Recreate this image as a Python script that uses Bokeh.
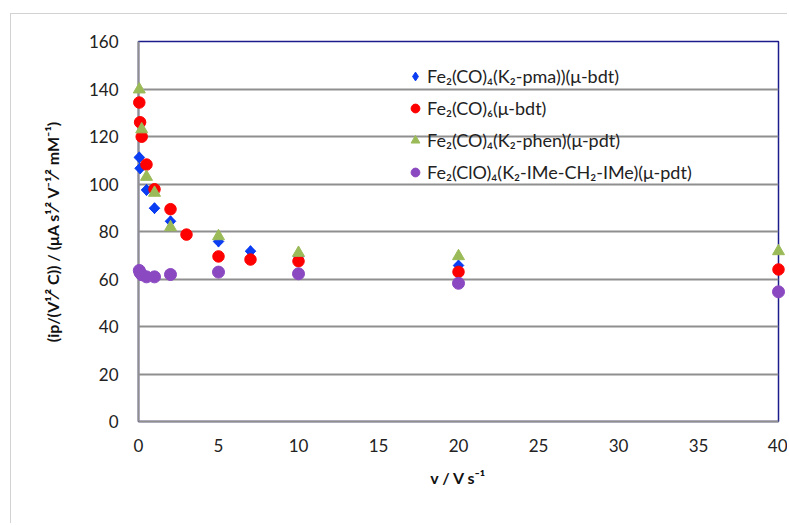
import math
from bokeh.plotting import figure
from bokeh.models import Range1d, FixedTicker, Legend, LegendItem
from bokeh.embed import file_html
from bokeh.resources import INLINE

# ---- data ----
blue_x = [0.05, 0.1, 0.5, 1, 2, 5, 7, 10, 20]
blue_y = [111.2, 106.6, 97.5, 89.8, 84.3, 75.8, 71.7, 69.5, 65.7]

red_x = [0.05, 0.1, 0.2, 0.5, 1, 2, 3, 5, 7, 10, 20, 40]
red_y = [134.3, 126.0, 119.9, 108.2, 97.8, 89.4, 78.7, 69.5, 68.2, 67.5, 63.0, 64.0]

green_x = [0.05, 0.2, 0.5, 1, 2, 5, 10, 20, 40]
green_y = [139.8, 123.0, 103.0, 96.3, 81.8, 78.0, 71.0, 69.6, 71.7]

purple_x = [0.05, 0.1, 0.2, 0.5, 1, 2, 5, 10, 20, 40]
purple_y = [63.6, 62.6, 61.8, 60.9, 60.9, 61.9, 62.9, 62.2, 58.2, 54.6]

series_names = [
    "Fe₂(CO)₄(K₂-pma))(μ-bdt)",
    "Fe₂(CO)₆(μ-bdt)",
    "Fe₂(CO)₄(K₂-phen)(μ-pdt)",
    "Fe₂(ClO)₄(K₂-IMe-CH₂-IMe)(μ-pdt)",
]
x_ticks = [0, 5, 10, 15, 20, 25, 30, 35, 40]
y_ticks = [0, 20, 40, 60, 80, 100, 120, 140, 160]

FONT = "Lato"
BLUE = "#0b3df2"

p = figure(
    width=777, height=510,
    output_backend="svg", toolbar_location=None,
    x_range=Range1d(0, 40), y_range=Range1d(0, 160),
    min_border_left=127, min_border_right=10,
    min_border_top=27, min_border_bottom=103,
)
# light outer chart-area border (left and top), as in the reference
p.styles = {"margin-left": "10px", "margin-top": "13px",
            "border-left": "1px solid #d2d2d2", "border-top": "1px solid #d2d2d2"}

p.outline_line_color = "#1c1c8a"
p.outline_line_width = 1.5

p.xgrid.visible = False
p.ygrid.ticker = FixedTicker(ticks=y_ticks)
p.ygrid.grid_line_color = "#8f8f8f"
p.ygrid.grid_line_width = 2

p.xaxis.ticker = FixedTicker(ticks=x_ticks)
p.yaxis.ticker = FixedTicker(ticks=y_ticks)
for ax in (p.xaxis[0], p.yaxis[0]):
    ax.axis_line_color = "#8f8f8f"
    ax.axis_line_width = 2
    ax.major_tick_line_color = None
    ax.minor_tick_line_color = None
    ax.major_label_text_font = FONT
    ax.major_label_text_font_size = "17px"
    ax.major_label_text_color = "#222222"
    ax.axis_label_text_font = FONT
    ax.axis_label_text_font_size = "16px"
    ax.axis_label_text_font_style = "bold"
    ax.axis_label_text_color = "#111111"

p.xaxis.major_label_standoff = 11
p.xaxis.axis_label_standoff = 13
p.yaxis.major_label_standoff = 14
p.yaxis.axis_label_standoff = 24
p.xaxis.axis_label = "v / V s⁻¹"
p.yaxis.axis_label = "(ip/(V¹⁄² C)) / (μA s¹⁄² V⁻¹⁄² mM⁻¹)"

# diamond key glyph (drawn under the rotated squares, used by the legend)
r_blue_key = p.scatter(blue_x, blue_y, marker="diamond", size=11,
                       fill_color=BLUE, line_color=BLUE, level="overlay")
r_blue = p.scatter(blue_x, blue_y, marker="square", angle=math.pi / 4, size=7.5,
                   fill_color=BLUE, line_color=BLUE, level="overlay")
r_red = p.scatter(red_x, red_y, marker="circle", size=11.5,
                  fill_color="#ff0000", line_color="#ff0000", level="overlay")
r_green = p.scatter(green_x, green_y, marker="triangle", size=12,
                    fill_color="#9bbb59", line_color="#9bbb59", level="overlay")
r_purple = p.scatter(purple_x, purple_y, marker="circle", size=12,
                     fill_color="#8b49c1", line_color="#8b49c1", level="overlay")

legend = Legend(
    items=[LegendItem(label=n, renderers=[r]) for n, r in
           zip(series_names, [r_blue_key, r_red, r_green, r_purple])],
    location=(266, 233),
    padding=0, margin=0, spacing=0,
    glyph_width=22, glyph_height=32, label_height=32,
    label_standoff=1,
    label_text_font=FONT, label_text_font_size="18px",
    label_text_color="#222222",
    background_fill_alpha=0, border_line_color=None,
)
p.add_layout(legend, "center")

open("out.html", "w").write(file_html(p, INLINE))
